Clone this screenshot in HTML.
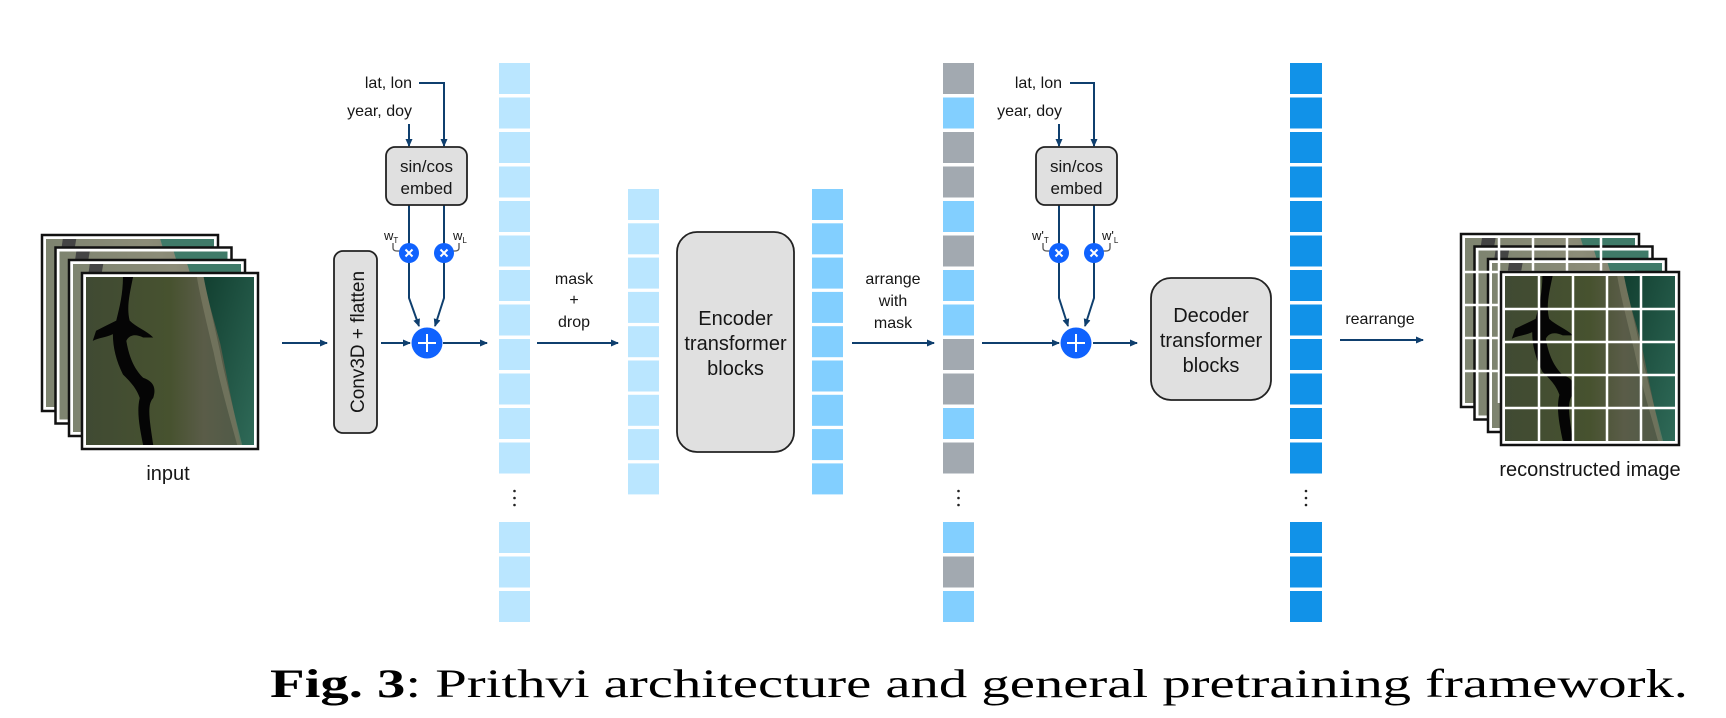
<!DOCTYPE html>
<html><head><meta charset="utf-8"><style>
html,body{margin:0;padding:0;background:#fff;}
svg{display:block;}
text{font-family:"Liberation Sans",sans-serif;fill:#161616;}
</style></head><body>
<svg width="1726" height="718" viewBox="0 0 1726 718" xmlns="http://www.w3.org/2000/svg">
<defs>
<marker id="ah" markerWidth="8" markerHeight="8" refX="7" refY="4" orient="auto" markerUnits="userSpaceOnUse">
<path d="M0,0.5 L8,4 L0,7.5 z" fill="#0f3f6e"/></marker>
<linearGradient id="land" x1="0" y1="0" x2="1" y2="0">
<stop offset="0" stop-color="#404a33"/><stop offset="0.5" stop-color="#47522f"/><stop offset="0.7" stop-color="#5a5c48"/><stop offset="1" stop-color="#4d5a48"/></linearGradient>
<linearGradient id="sea" x1="0" y1="0" x2="1" y2="1">
<stop offset="0" stop-color="#123f30"/><stop offset="1" stop-color="#2f6a58"/></linearGradient>
<linearGradient id="landb" x1="0" y1="0" x2="1" y2="0">
<stop offset="0" stop-color="#7e8470"/><stop offset="0.6" stop-color="#8c8c78"/><stop offset="1" stop-color="#7a7c6a"/></linearGradient>
<symbol id="sat" viewBox="0 0 100 100" preserveAspectRatio="none">
<rect width="100" height="100" fill="url(#land)"/>
<path d="M70,0 L100,0 L100,100 L92,100 C88,80 84,60 80,40 C76,25 72,12 70,0z" fill="url(#sea)"/>
<path d="M66,0 L70,0 C73,15 78,35 82,55 C86,72 90,88 93,100 L90,100 C86,85 80,65 76,45 C72,28 68,12 66,0z" fill="#8a8a70" opacity="0.5"/>
<path d="M22,0 L28,0 C26,10 24,18 26,26 C30,30 36,32 40,36 L34,36 C30,34 26,34 24,38 C26,50 30,56 34,60 C40,62 42,66 40,72 C36,76 38,86 40,100 L34,100 C32,90 30,80 32,72 C30,66 26,62 22,58 C18,50 16,42 16,34 C12,36 8,36 4,38 L6,32 C10,30 14,28 18,26 C20,18 22,10 22,0z" fill="#050505"/>
</symbol>
<symbol id="satb" viewBox="0 0 100 100" preserveAspectRatio="none">
<rect width="100" height="100" fill="url(#landb)"/>
<path d="M68,0 L100,0 L100,100 L92,100 C88,70 80,40 68,0z" fill="#3f7a68"/>
<path d="M10,0 L18,0 L16,12 L8,14z" fill="#444"/>
</symbol>
</defs>

<g>
<rect x="42" y="235" width="176" height="176" fill="#fff" stroke="#111" stroke-width="2.5"/><use href="#satb" x="46" y="239" width="168" height="168"/>
<rect x="55.5" y="247.5" width="176" height="176" fill="#fff" stroke="#111" stroke-width="2.5"/><use href="#satb" x="59.5" y="251.5" width="168" height="168"/>
<rect x="69" y="260" width="176" height="176" fill="#fff" stroke="#111" stroke-width="2.5"/><use href="#satb" x="73" y="264" width="168" height="168"/>
<rect x="82" y="273" width="176" height="176" fill="#fff" stroke="#111" stroke-width="2.5"/><use href="#sat" x="86" y="277" width="168" height="168"/>
</g>
<text x="168" y="480" font-size="20" text-anchor="middle">input</text>

<g stroke="#0f3f6e" stroke-width="2" fill="none">
<line x1="282" y1="343" x2="327" y2="343" marker-end="url(#ah)"/>
<line x1="381" y1="343" x2="410" y2="343" marker-end="url(#ah)"/>
<line x1="443" y1="343" x2="487" y2="343" marker-end="url(#ah)"/>
<line x1="537" y1="343" x2="618" y2="343" marker-end="url(#ah)"/>
<line x1="852" y1="343" x2="934" y2="343" marker-end="url(#ah)"/>
<line x1="982" y1="343" x2="1059" y2="343" marker-end="url(#ah)"/>
<line x1="1093" y1="343" x2="1137" y2="343" marker-end="url(#ah)"/>
<line x1="1340" y1="340" x2="1423" y2="340" marker-end="url(#ah)"/>
<polyline points="419,83 444,83 444,146" marker-end="url(#ah)"/>
<line x1="409" y1="124" x2="409" y2="146" marker-end="url(#ah)"/>
<polyline points="409,205 409,298 419,326" marker-end="url(#ah)"/>
<polyline points="444,205 444,298 435,326" marker-end="url(#ah)"/>
<polyline points="1070,83 1094,83 1094,146" marker-end="url(#ah)"/>
<line x1="1059" y1="124" x2="1059" y2="146" marker-end="url(#ah)"/>
<polyline points="1059,205 1059,298 1068,326" marker-end="url(#ah)"/>
<polyline points="1094,205 1094,298 1085,326" marker-end="url(#ah)"/>
</g>
<g stroke="#555" stroke-width="1.3" fill="none">
<path d="M393,243 v5 q0,3 4,3 h4"/><path d="M459,243 v5 q0,3 -4,3 h-4"/>
<path d="M1043,243 v5 q0,3 4,3 h4"/><path d="M1110,243 v5 q0,3 -4,3 h-4"/>
</g>
<g font-size="13"><text x="384" y="240">w<tspan font-size="8" dy="3">T</tspan></text>
<text x="453" y="240">w<tspan font-size="8" dy="3">L</tspan></text>
<text x="1032" y="240">w'<tspan font-size="8" dy="3">T</tspan></text>
<text x="1102" y="240">w'<tspan font-size="8" dy="3">L</tspan></text></g>

<rect x="386" y="147" width="81" height="58" rx="9" fill="#e0e0e0" stroke="#222" stroke-width="1.8"/>
<text x="426.5" y="172" font-size="17" text-anchor="middle">sin/cos</text>
<text x="426.5" y="194" font-size="17" text-anchor="middle">embed</text>
<rect x="1036" y="147" width="81" height="58" rx="9" fill="#e0e0e0" stroke="#222" stroke-width="1.8"/>
<text x="1076.5" y="172" font-size="17" text-anchor="middle">sin/cos</text>
<text x="1076.5" y="194" font-size="17" text-anchor="middle">embed</text>
<g font-size="16" text-anchor="end"><text x="412" y="88">lat, lon</text><text x="412" y="116">year, doy</text>
<text x="1062" y="88">lat, lon</text><text x="1062" y="116">year, doy</text></g>

<g fill="#0f62fe">
<circle cx="409" cy="253" r="10"/><circle cx="444" cy="253" r="10"/><circle cx="427" cy="343" r="15.5"/>
<circle cx="1059" cy="253" r="10"/><circle cx="1094" cy="253" r="10"/><circle cx="1076" cy="343" r="15.5"/>
</g>
<g stroke="#fff" stroke-width="2" fill="none">
<path d="M405.5,249.5 l7,7 M412.5,249.5 l-7,7"/><path d="M440.5,249.5 l7,7 M447.5,249.5 l-7,7"/>
<path d="M1055.5,249.5 l7,7 M1062.5,249.5 l-7,7"/><path d="M1090.5,249.5 l7,7 M1097.5,249.5 l-7,7"/>
<path d="M427,334 v18 M418,343 h18"/><path d="M1076,334 v18 M1067,343 h18"/>
</g>

<rect x="334" y="251" width="43" height="182" rx="9" fill="#e0e0e0" stroke="#222" stroke-width="1.8"/>
<text transform="translate(364,342) rotate(-90)" font-size="19" text-anchor="middle">Conv3D + flatten</text>

<g fill="#bae6ff">
<rect x="499" y="63" width="31" height="31"/><rect x="499" y="97.5" width="31" height="31"/><rect x="499" y="132" width="31" height="31"/><rect x="499" y="166.5" width="31" height="31"/><rect x="499" y="201" width="31" height="31"/><rect x="499" y="235.5" width="31" height="31"/><rect x="499" y="270" width="31" height="31"/><rect x="499" y="304.5" width="31" height="31"/><rect x="499" y="339" width="31" height="31"/><rect x="499" y="373.5" width="31" height="31"/><rect x="499" y="408" width="31" height="31"/><rect x="499" y="442.5" width="31" height="31"/>
<rect x="499" y="522" width="31" height="31"/><rect x="499" y="556.5" width="31" height="31"/><rect x="499" y="591" width="31" height="31"/>
<rect x="628" y="189" width="31" height="31"/><rect x="628" y="223.3" width="31" height="31"/><rect x="628" y="257.6" width="31" height="31"/><rect x="628" y="291.9" width="31" height="31"/><rect x="628" y="326.2" width="31" height="31"/><rect x="628" y="360.5" width="31" height="31"/><rect x="628" y="394.8" width="31" height="31"/><rect x="628" y="429.1" width="31" height="31"/><rect x="628" y="463.4" width="31" height="31"/>
</g>
<g fill="#82cfff">
<rect x="812" y="189" width="31" height="31"/><rect x="812" y="223.3" width="31" height="31"/><rect x="812" y="257.6" width="31" height="31"/><rect x="812" y="291.9" width="31" height="31"/><rect x="812" y="326.2" width="31" height="31"/><rect x="812" y="360.5" width="31" height="31"/><rect x="812" y="394.8" width="31" height="31"/><rect x="812" y="429.1" width="31" height="31"/><rect x="812" y="463.4" width="31" height="31"/>
<rect x="943" y="97.5" width="31" height="31"/><rect x="943" y="201" width="31" height="31"/><rect x="943" y="270" width="31" height="31"/><rect x="943" y="304.5" width="31" height="31"/><rect x="943" y="408" width="31" height="31"/><rect x="943" y="522" width="31" height="31"/><rect x="943" y="591" width="31" height="31"/>
</g>
<g fill="#a2a9b0">
<rect x="943" y="63" width="31" height="31"/><rect x="943" y="132" width="31" height="31"/><rect x="943" y="166.5" width="31" height="31"/><rect x="943" y="235.5" width="31" height="31"/><rect x="943" y="339" width="31" height="31"/><rect x="943" y="373.5" width="31" height="31"/><rect x="943" y="442.5" width="31" height="31"/><rect x="943" y="556.5" width="31" height="31"/>
</g>
<g fill="#1192e8">
<rect x="1290" y="63" width="32" height="31"/><rect x="1290" y="97.5" width="32" height="31"/><rect x="1290" y="132" width="32" height="31"/><rect x="1290" y="166.5" width="32" height="31"/><rect x="1290" y="201" width="32" height="31"/><rect x="1290" y="235.5" width="32" height="31"/><rect x="1290" y="270" width="32" height="31"/><rect x="1290" y="304.5" width="32" height="31"/><rect x="1290" y="339" width="32" height="31"/><rect x="1290" y="373.5" width="32" height="31"/><rect x="1290" y="408" width="32" height="31"/><rect x="1290" y="442.5" width="32" height="31"/>
<rect x="1290" y="522" width="32" height="31"/><rect x="1290" y="556.5" width="32" height="31"/><rect x="1290" y="591" width="32" height="31"/>
</g>
<g fill="#222">
<circle cx="514.5" cy="491" r="1.3"/><circle cx="514.5" cy="498" r="1.3"/><circle cx="514.5" cy="505" r="1.3"/>
<circle cx="958.5" cy="491" r="1.3"/><circle cx="958.5" cy="498" r="1.3"/><circle cx="958.5" cy="505" r="1.3"/>
<circle cx="1306" cy="491" r="1.3"/><circle cx="1306" cy="498" r="1.3"/><circle cx="1306" cy="505" r="1.3"/>
</g>

<g font-size="16" text-anchor="middle">
<text x="574" y="284">mask</text><text x="574" y="305">+</text><text x="574" y="327">drop</text>
<text x="893" y="284">arrange</text><text x="893" y="306">with</text><text x="893" y="328">mask</text>
<text x="1380" y="324">rearrange</text>
</g>

<rect x="677" y="232" width="117" height="220" rx="20" fill="#e0e0e0" stroke="#222" stroke-width="1.8"/>
<g font-size="20" text-anchor="middle"><text x="735.5" y="325">Encoder</text><text x="735.5" y="350">transformer</text><text x="735.5" y="375">blocks</text></g>
<rect x="1151" y="278" width="120" height="122" rx="20" fill="#e0e0e0" stroke="#222" stroke-width="1.8"/>
<g font-size="20" text-anchor="middle"><text x="1211" y="322">Decoder</text><text x="1211" y="347">transformer</text><text x="1211" y="372">blocks</text></g>

<g>
<rect x="1461" y="234" width="178" height="173" fill="#fff" stroke="#111" stroke-width="2.5"/><use href="#satb" x="1465" y="238" width="170" height="165"/>
<rect x="1474.5" y="246.5" width="178" height="173" fill="#fff" stroke="#111" stroke-width="2.5"/><use href="#satb" x="1478.5" y="250.5" width="170" height="165"/>
<rect x="1488" y="259" width="178" height="173" fill="#fff" stroke="#111" stroke-width="2.5"/><use href="#satb" x="1492" y="263" width="170" height="165"/>
<g stroke="#fff" stroke-width="2.5"><path d="M1465,272 h170 M1465,305 h170 M1465,338 h170 M1465,371 h170 M1499,238 v165 M1533,238 v165 M1567,238 v165 M1601,238 v165"/></g>
<rect x="1501" y="272" width="178" height="173" fill="#fff" stroke="#111" stroke-width="2.5"/><use href="#sat" x="1505" y="276" width="170" height="165"/>
<g stroke="#fff" stroke-width="2.5"><path d="M1505,309 h170 M1505,342 h170 M1505,375 h170 M1505,408 h170 M1539,276 v165 M1573,276 v165 M1607,276 v165 M1641,276 v165"/></g>
</g>
<text x="1590" y="476" font-size="20" text-anchor="middle">reconstructed image</text>

<text x="270" y="697" style="font-family:'Liberation Serif',serif;font-size:40px;fill:#000" textLength="1418" lengthAdjust="spacingAndGlyphs"><tspan font-weight="bold">Fig. 3</tspan>: Prithvi architecture and general pretraining framework.</text>
</svg>
</body></html>
